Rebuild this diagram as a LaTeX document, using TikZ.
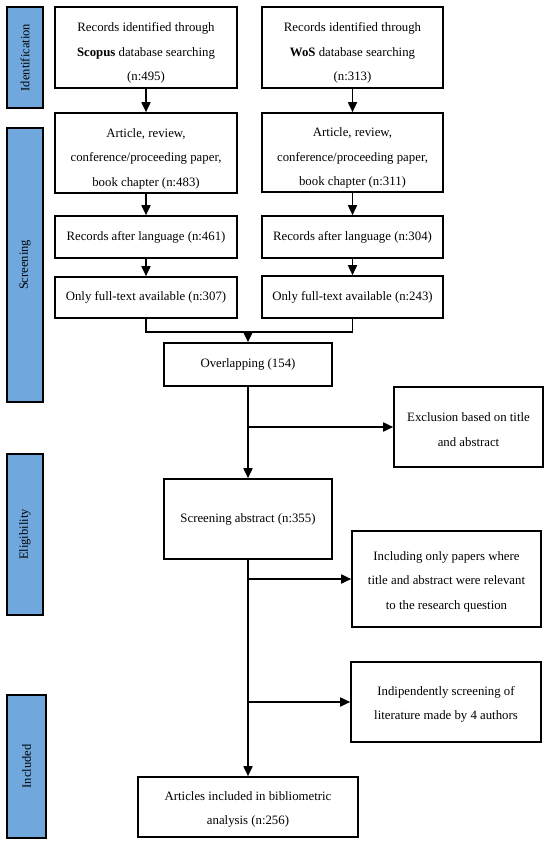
\documentclass[tikz,border=0pt]{standalone}
\usepackage{fontspec}
\setmainfont{Liberation Serif}
\usetikzlibrary{arrows.meta}
\definecolor{barblue}{RGB}{112,168,222}
\newcommand{\tallfirst}{\rule{0pt}{20pt}}
\newcommand{\midfirst}{\rule{0pt}{14pt}}
\begin{document}
\begin{tikzpicture}[x=1pt,y=-1pt,
  box/.style={draw,line width=1.6pt,align=center,inner sep=0pt,font=\fontsize{12.8}{24.5}\selectfont},
  bar/.style={draw,line width=1.6pt,fill=barblue,inner sep=0pt,rotate=90,font=\fontsize{12.5}{14}\selectfont},
  con/.style={line width=1.7pt},
  arr/.style={con,-{Triangle[length=10pt,width=9pt]}}]
\useasboundingbox (0,0) rectangle (550,843);
% side bars
\node[bar,minimum width=101pt,minimum height=36pt] (b1) at (25,57.5) {Identification};
\node[bar,minimum width=274pt,minimum height=36pt] (b2) at (25,265) {Screening};
\node[bar,minimum width=161pt,minimum height=36pt] (b3) at (25,534.5) {Eligibility};
\node[bar,minimum width=143pt,minimum height=39pt] (b4) at (26.5,766.5) {Included};
% boxes
\node[box,minimum width=182pt,minimum height=81pt] (scop) at (146,47.5) {\tallfirst Records identified through\\\textbf{Scopus} database searching\\(n:495)};
\node[box,minimum width=181pt,minimum height=81pt] (wos) at (352.5,47.5) {\tallfirst Records identified through\\\textbf{WoS} database searching\\(n:313)};
\node[box,minimum width=182pt,minimum height=80pt] (art1) at (146,153) {\tallfirst Article, review,\\conference/proceeding paper,\\book chapter (n:483)};
\node[box,minimum width=181pt,minimum height=79pt] (art2) at (352.5,152.5) {\tallfirst Article, review,\\conference/proceeding paper,\\book chapter (n:311)};
\node[box,minimum width=182pt,minimum height=42pt] (lang1) at (146,237) {Records after language (n:461)};
\node[box,minimum width=181pt,minimum height=42pt] (lang2) at (352.5,237) {Records after language (n:304)};
\node[box,minimum width=182pt,minimum height=41pt] (full1) at (146,297.5) {Only full-text available (n:307)};
\node[box,minimum width=181pt,minimum height=42pt] (full2) at (352.5,297) {Only full-text available (n:243)};
\node[box,minimum width=168pt,minimum height=43pt] (ov) at (248,364.5) {Overlapping (154)};
\node[box,minimum width=149pt,minimum height=80pt] (excl) at (468.5,427) {\midfirst Exclusion based on title\\and abstract};
\node[box,minimum width=168pt,minimum height=80pt] (scr) at (248,519) {Screening abstract (n:355)};
\node[box,minimum width=189pt,minimum height=96pt] (incl) at (446.5,579) {\midfirst Including only papers where\\title and abstract were relevant\\to the research question};
\node[box,minimum width=190pt,minimum height=80pt] (ind) at (446,702) {\midfirst Indipendently screening of\\literature made by 4 authors};
\node[box,minimum width=220pt,minimum height=60pt] (fin) at (248,807) {\midfirst Articles included in bibliometric\\analysis (n:256)};
% connectors
\draw[arr] (scop) -- (art1);
\draw[arr] (wos) -- (art2);
\draw[arr] (art1) -- (lang1);
\draw[arr] (art2) -- (lang2);
\draw[arr] (lang1) -- (full1);
\draw[arr] (lang2) -- (full2);
\coordinate (mj) at (248,332);
\draw[con] (full1.south) |- (mj) -| (full2.south);
\draw[arr] (mj) -- (ov.north);
\draw[arr] (ov) -- (scr);
\draw[arr] (ov.south |- excl.west) -- (excl.west);
\draw[arr] (scr) -- (fin);
\draw[arr] (scr.south |- incl.west) -- (incl.west);
\draw[arr] (scr.south |- ind.west) -- (ind.west);
\end{tikzpicture}
\end{document}
